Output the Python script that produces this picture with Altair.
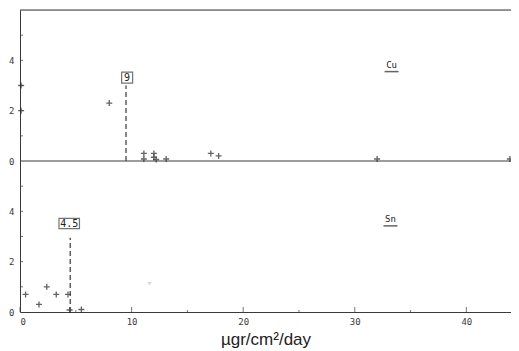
import altair as alt
import pandas as pd

# ---- data ----
cu_x = [0.1, 0.1, 8.0, 11.1, 11.1, 12.0, 12.0, 12.2, 13.1, 17.1, 17.8, 32.0, 43.9]
cu_y = [3.0, 2.0, 2.3, 0.3, 0.08, 0.3, 0.15, 0.06, 0.08, 0.3, 0.2, 0.08, 0.08]
sn_x = [0.5, 1.7, 2.4, 3.25, 4.3, 4.45, 5.5]
sn_y = [0.7, 0.3, 1.0, 0.7, 0.7, 0.08, 0.1]
faint_x = [11.6]
faint_y = [1.13]

panels = ["Cu", "Sn"]
panel_offset = [6, 0]          # Cu panel sits above Sn panel (each spans 0-6)
panel_label_x = [33.3, 33.2]
panel_label_y = [3.83, 3.7]

threshold_panel = ["Cu", "Sn"]
threshold_x = [9.5, 4.5]
threshold_top = [3.0, 2.95]
threshold_label = ["9", "4.5"]
label_x = [9.6, 4.41]
label_y = [3.31, 3.52]

x_major = [0, 10, 20, 30, 40]
x_minor = [5, 15, 25, 35]
y_ticks = [1, 2, 3, 4, 5]
y_labels = [0, 2, 4]
x_max = 44.0
panel_height = 6

offset = dict(zip(panels, panel_offset))

pts = pd.DataFrame(
    {"x": cu_x + sn_x, "y": cu_y + sn_y,
     "panel": ["Cu"] * len(cu_x) + ["Sn"] * len(sn_x)}
)
pts["yy"] = pts["y"] + pts["panel"].map(offset)

faint = pd.DataFrame({"x": faint_x, "yy": [v + offset["Sn"] for v in faint_y]})

thr = pd.DataFrame({"panel": threshold_panel, "x": threshold_x, "top": threshold_top,
                    "label": threshold_label, "lx": label_x, "ly": label_y})
thr["base"] = thr["panel"].map(offset)
thr["ytop"] = thr["top"] + thr["base"]
thr["lyy"] = thr["ly"] + thr["base"]

plab = pd.DataFrame({"panel": panels, "x": panel_label_x, "y": panel_label_y})
plab["yy"] = plab["y"] + plab["panel"].map(offset)

hlines = pd.DataFrame({"yy": [panel_height, 2 * panel_height]})
yt = pd.DataFrame({"yy": [v + o for o in panel_offset for v in y_ticks]})
xt_major = pd.DataFrame({"x": x_major})
xt_minor = pd.DataFrame({"x": x_minor})

MONO = "DejaVu Sans Mono"
INK = "#3a3a3a"

xscale = alt.Scale(domain=[0, x_max], nice=False, zero=False)
yscale = alt.Scale(domain=[0, 2 * panel_height], nice=False)

X = alt.X("x:Q", scale=xscale,
          axis=alt.Axis(values=x_major, tickSize=0, grid=False, domainColor=INK,
                        labelFont=MONO, labelFontSize=9, labelColor=INK, labelPadding=5,
                        title="µgr/cm²/day", titleFont="Liberation Sans",
                        titleFontSize=17, titleFontWeight="normal", titleColor="#222",
                        titleBaseline="alphabetic", titleY=32))
Y_axis = alt.Axis(values=[v + o for o in panel_offset for v in y_labels], tickSize=0,
                  grid=False, domainColor=INK, labelFont=MONO, labelFontSize=9,
                  labelColor=INK, labelPadding=6, title=None,
                  labelExpr="'' + (datum.value % 6)")

base_pts = alt.Chart(pts).mark_point(
    shape="M-1,0L1,0M0,-1L0,1", size=36, strokeWidth=1.3, color="#222", filled=False
).encode(x=X, y=alt.Y("yy:Q", scale=yscale, axis=Y_axis))

faint_layer = alt.Chart(faint).mark_point(
    shape="triangle-down", size=14, color="#bbbbbb", filled=True
).encode(x=alt.X("x:Q", scale=xscale), y=alt.Y("yy:Q", scale=yscale))

lines = alt.Chart(hlines).mark_rule(color=INK, strokeWidth=1).encode(
    y=alt.Y("yy:Q", scale=yscale))

yticks = alt.Chart(yt).mark_tick(orient="horizontal", size=3, thickness=1,
                                 color=INK, xOffset=1.5).encode(
    x=alt.value(0), y=alt.Y("yy:Q", scale=yscale))

xticks_major = alt.Chart(xt_major).mark_tick(orient="vertical", size=5, thickness=1,
                                             color=INK, yOffset=-2.5).encode(
    x=alt.X("x:Q", scale=xscale), y=alt.datum(0, scale=yscale))
xticks_minor = alt.Chart(xt_minor).mark_tick(orient="vertical", size=2, thickness=1,
                                             color=INK, yOffset=-1).encode(
    x=alt.X("x:Q", scale=xscale), y=alt.datum(0, scale=yscale))

dash = alt.Chart(thr).mark_rule(color=INK, strokeWidth=1.2, strokeDash=[5, 3]).encode(
    x=alt.X("x:Q", scale=xscale), y=alt.Y("base:Q", scale=yscale), y2="ytop:Q")

boxes = alt.Chart(thr).mark_point(filled=False, strokeWidth=1.2, color=INK).encode(
    x=alt.X("lx:Q", scale=xscale), y=alt.Y("lyy:Q", scale=yscale),
    shape=alt.Shape("label:N", legend=None,
                    scale=alt.Scale(domain=threshold_label,
                                    range=["M-1,-1L1,-1L1,1L-1,1Z",
                                           "M-1,-0.5L1,-0.5L1,0.5L-1,0.5Z"])),
    size=alt.Size("label:N", legend=None,
                  scale=alt.Scale(domain=threshold_label, range=[121, 420])))

box_text = alt.Chart(thr).mark_text(font=MONO, fontSize=10, color="#222",
                                    baseline="middle", align="center", dy=0.5).encode(
    x=alt.X("lx:Q", scale=xscale), y=alt.Y("lyy:Q", scale=yscale), text="label:N")

pl_text = alt.Chart(plab).mark_text(font=MONO, fontSize=9, color="#222",
                                    baseline="middle", align="center").encode(
    x=alt.X("x:Q", scale=xscale), y=alt.Y("yy:Q", scale=yscale), text="panel:N")

pl_under = alt.Chart(plab).mark_tick(orient="horizontal", size=14, thickness=1.5,
                                     color="#222", yOffset=7).encode(
    x=alt.X("x:Q", scale=xscale), y=alt.Y("yy:Q", scale=yscale))

chart = alt.layer(
    lines, base_pts, faint_layer, yticks, xticks_major, xticks_minor,
    dash, boxes, box_text, pl_text, pl_under
).properties(
    width=491, height=302,
    autosize=alt.AutoSizeParams(type="none"),
    padding={"left": 12, "top": 2, "right": 0, "bottom": 37},
).configure_view(stroke=None).configure(background="white")

chart.save("out.html", embed_options={"renderer": "svg", "actions": False})
